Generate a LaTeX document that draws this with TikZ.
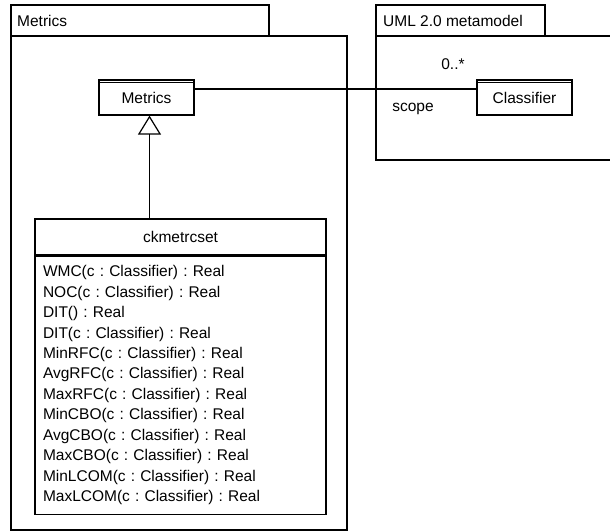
\documentclass[tikz,border=0pt]{standalone}
\usepackage{fontspec}
\setmainfont{Liberation Sans}
\frenchspacing
\usetikzlibrary{arrows.meta,positioning}
\tikzset{
  pkgline/.style={line width=1.2pt},
  classbox/.style={draw,line width=1.2pt,minimum width=95pt,minimum height=35pt,inner sep=0pt},
  txt/.style={font=\fontsize{15.5}{18}\selectfont,inner sep=0pt},
}
\begin{document}
\begin{tikzpicture}[x=1pt,y=-1pt]
  \useasboundingbox(0,0)rectangle(610,532);
  % packages
  \draw[pkgline](11,5)rectangle(269,36) (11,36)rectangle(347,530);
  \node[txt,anchor=west](mpkg)at(17,21){Metrics};
  \draw[pkgline](376,5)rectangle(545,36) (376,36)rectangle(614,160);
  \node[txt,anchor=west](upkg)at(383,21){UML 2.0 metamodel};
  % classes
  \node[classbox,txt](metrics)at(146.5,97.5){Metrics};
  \draw[line width=.8pt]([yshift=-3pt]metrics.north west)--([yshift=-3pt]metrics.north east);
  \node[classbox,txt](classifier)at(524.5,97.5){Classifier};
  \draw[line width=.8pt]([yshift=-3pt]classifier.north west)--([yshift=-3pt]classifier.north east);
  \node[draw,line width=1.2pt,txt,minimum width=291pt,minimum height=36pt](ckset)at(180.5,237){ckmetrcset};
  \node[draw,line width=1.2pt,below=0pt of ckset,minimum height=258pt,text width=275pt,inner xsep=8pt,
    align=left,font=\fontsize{15.5}{20.45}\selectfont](ops){%
    WMC(c : Classifier) : Real\\
    NOC(c : Classifier) : Real\\
    DIT() : Real\\
    DIT(c : Classifier) : Real\\
    MinRFC(c : Classifier) : Real\\
    AvgRFC(c : Classifier) : Real\\
    MaxRFC(c : Classifier) : Real\\
    MinCBO(c : Classifier) : Real\\
    AvgCBO(c : Classifier) : Real\\
    MaxCBO(c : Classifier) : Real\\
    MinLCOM(c : Classifier) : Real\\
    MaxLCOM(c : Classifier) : Real};
  % relations
  \draw[line width=1.2pt,-{Triangle[open,length=19pt,width=23pt]}]([xshift=3pt]metrics.south|-ckset.north)--([xshift=3pt]metrics.south);
  \draw[line width=1.2pt]([yshift=8.5pt]metrics.east)--([yshift=8.5pt]classifier.west);
  \node[txt](mult)at(453,64){0..*};
  \node[txt](role)at(413,109){scope};
\end{tikzpicture}
\end{document}
